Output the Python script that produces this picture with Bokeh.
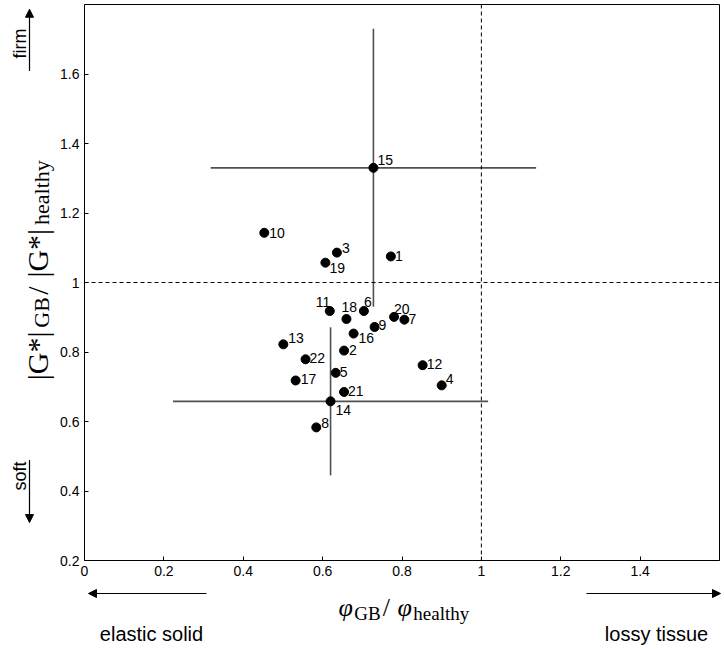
import math
from bokeh.plotting import figure
from bokeh.models import Range1d, Arrow, NormalHead, Span, ColumnDataSource, FixedTicker
from bokeh.layouts import row, column
from bokeh.core.properties import value
from bokeh.embed import file_html
from bokeh.resources import INLINE

# ---- data ----
sample_ids = ["1", "2", "3", "4", "5", "6", "7", "8", "9", "10", "11",
              "12", "13", "14", "15", "16", "17", "18", "19", "20", "21", "22"]
phi_ratio = [0.772, 0.654, 0.636, 0.900, 0.633, 0.704, 0.806, 0.584, 0.731, 0.453, 0.618,
             0.852, 0.501, 0.620, 0.728, 0.678, 0.532, 0.660, 0.607, 0.780, 0.654, 0.557]
g_ratio = [1.075, 0.804, 1.086, 0.704, 0.740, 0.918, 0.893, 0.583, 0.872, 1.143, 0.918,
           0.762, 0.822, 0.658, 1.330, 0.853, 0.718, 0.895, 1.057, 0.901, 0.685, 0.779]

# error bars (mean +/- sd) for groups 15 and 14
err_ids = ["15", "14"]
err_phi = [0.410, 0.397]
err_g = [0.400, 0.213]

x_ticks = [0, 0.2, 0.4, 0.6, 0.8, 1, 1.2, 1.4]
x_tick_labels = ["0", "0.2", "0.4", "0.6", "0.8", "1", "1.2", "1.4"]
y_ticks = [0.2, 0.4, 0.6, 0.8, 1, 1.2, 1.4, 1.6]
y_tick_labels = ["0.2", "0.4", "0.6", "0.8", "1", "1.2", "1.4", "1.6"]

# label placement (pixel offsets from each dot: right, down)
label_dx = {"1": 4, "2": 5, "3": 5, "4": 4, "5": 4, "6": 0, "7": 4, "8": 5, "9": 4, "10": 5,
            "11": -14, "12": 4, "13": 5, "14": 5, "15": 4, "16": 5, "17": 5, "18": -5,
            "19": 4, "20": 0, "21": 4, "22": 4}
label_dy = {"1": 0, "2": -1, "3": -5, "4": -6, "5": -1, "6": -9, "7": -1, "8": -4, "9": -2,
            "10": 0, "11": -9, "12": -1, "13": -6, "14": 9, "15": -8, "16": 4, "17": -1,
            "18": -12, "19": 5, "20": -8, "21": -1, "22": -1}

SANS = "Liberation Sans"
SERIF = "Liberation Serif"

TOTAL_W, TOTAL_H = 724, 649
LEFT_W = 56
TOP_H = 586

# ---------------- main plot ----------------
p = figure(width=TOTAL_W - LEFT_W, height=TOP_H, output_backend="svg", toolbar_location=None,
           x_range=Range1d(0, 1.6), y_range=Range1d(0.2, 1.8),
           min_border_left=84 - LEFT_W, min_border_right=5, min_border_top=4, min_border_bottom=26)
p.title.visible = False
p.grid.visible = False
p.background_fill_color = "white"
p.outline_line_color = "black"
p.outline_line_width = 1
p.outline_line_alpha = 1

for ax, ticks, labels in ((p.xaxis[0], x_ticks, x_tick_labels), (p.yaxis[0], y_ticks, y_tick_labels)):
    ax.ticker = FixedTicker(ticks=ticks)
    ax.major_label_overrides = {t: l for t, l in zip(ticks, labels)}
    ax.major_tick_in = 4
    ax.major_tick_out = 0
    ax.minor_tick_line_color = None
    ax.axis_line_color = "black"
    ax.major_tick_line_color = "black"
    ax.major_label_text_font = SANS
    ax.major_label_text_font_size = "14px"
    ax.major_label_text_color = "black"
    ax.major_label_standoff = 5

p.add_layout(Span(location=1, dimension="height", line_color="black", line_dash="4 3", line_width=1))
p.add_layout(Span(location=1, dimension="width", line_color="black", line_dash="4 3", line_width=1))

for sid, ex, ey in zip(err_ids, err_phi, err_g):
    i = sample_ids.index(sid)
    cx, cy = phi_ratio[i], g_ratio[i]
    p.segment(x0=[cx - ex], y0=[cy], x1=[cx + ex], y1=[cy], line_color="#505050", line_width=1.6)
    p.segment(x0=[cx], y0=[cy - ey], x1=[cx], y1=[cy + ey], line_color="#505050", line_width=1.6)

src = ColumnDataSource(dict(x=phi_ratio, y=g_ratio, t=sample_ids,
                            dx=[label_dx[s] for s in sample_ids],
                            dy=[label_dy[s] for s in sample_ids]))
p.scatter("x", "y", source=src, size=9, color="black")
p.text("x", "y", text="t", source=src, x_offset="dx", y_offset="dy",
       text_font=value(SANS), text_font_size="14px", text_color="black",
       text_align="left", text_baseline="middle")


# ---------------- side panels (pixel coordinates) ----------------
def panel(w, h):
    f = figure(width=w, height=h, output_backend="svg", toolbar_location=None,
               x_range=Range1d(0, w), y_range=Range1d(0, h),
               x_axis_location=None, y_axis_location=None,
               min_border_left=0, min_border_right=0, min_border_top=0, min_border_bottom=0)
    f.title.visible = False
    f.grid.visible = False
    f.outline_line_color = None
    f.background_fill_color = "white"
    return f


left = panel(LEFT_W, TOP_H)
bottom = panel(TOTAL_W, TOTAL_H - TOP_H)


def txt(f, x0, y0, x, y, text, font=SANS, size=18, style="normal", angle=0.0,
        align="left", baseline="alphabetic", xo=0, yo=0):
    # x, y given in page pixels; (x0, y0) = panel's top-left page position
    h = f.height
    f.text(x=[x - x0], y=[h - (y - y0)], text=[text], text_font=value(font),
           text_font_size=f"{size}px", text_font_style=style, angle=angle,
           text_align=align, text_baseline=baseline, x_offset=xo, y_offset=yo,
           text_color="black")


def arrow(f, x0, y0, xs, ys, xe, ye):
    h = f.height
    f.add_layout(Arrow(end=NormalHead(size=8, fill_color="black", line_color="black"),
                       x_start=xs - x0, y_start=h - (ys - y0), x_end=xe - x0, y_end=h - (ye - y0),
                       line_color="black", line_width=1.2))


# Liberation Serif approximate advance widths (em)
W = {"|": 0.2, "G": 0.722, "*": 0.5, "B": 0.667, "/": 0.278, " ": 0.25, "h": 0.5, "e": 0.444,
     "a": 0.444, "l": 0.278, "t": 0.278, "y": 0.5, "\u03c6": 0.56}


def width(s, size):
    return sum(W.get(c, 0.5) for c in s) * size * 1.08


def compose(f, x0, y0, pieces, x, y, vertical=False, shift=6):
    cum = 0.0
    for text, size, style, sub in pieces:
        s = shift if sub else 0
        if vertical:
            txt(f, x0, y0, x, y, text, font=SERIF, size=size, style=style,
                angle=math.pi / 2, xo=s, yo=-cum)
        else:
            txt(f, x0, y0, x, y, text, font=SERIF, size=size, style=style, xo=cum, yo=s)
        cum += width(text, size)


# y-axis title and firm/soft hints (left panel, page origin 0,0)
compose(left, 0, 0, [("|G*|", 30, "normal", False), ("GB", 22, "normal", True),
                     ("/ ", 30, "normal", False), ("|G*|", 30, "normal", False),
                     ("healthy", 22, "normal", True)], 37, 396, vertical=True, shift=4)
txt(left, 0, 0, 19, 41, "firm", size=18, angle=math.pi / 2, align="center", baseline="middle")
txt(left, 0, 0, 19, 497, "soft", size=18, angle=math.pi / 2, align="center", baseline="middle")
arrow(left, 0, 0, 29, 70, 29, 5)
arrow(left, 0, 0, 29, 480, 29, 546)

# x-axis title and elastic/lossy hints (bottom panel, page origin 0,TOP_H)
compose(bottom, 0, TOP_H, [("\u03c6", 26, "italic", False), ("GB", 19, "normal", True),
                           ("/ ", 26, "normal", False), ("\u03c6", 26, "italic", False),
                           ("healthy", 19, "normal", True)], 338, 607)
txt(bottom, 0, TOP_H, 151, 633, "elastic solid", size=20, align="center", baseline="middle")
txt(bottom, 0, TOP_H, 656, 633, "lossy tissue", size=20, align="center", baseline="middle")
arrow(bottom, 0, TOP_H, 206, 593, 88, 593)
arrow(bottom, 0, TOP_H, 586, 593, 720, 593)

layout = column(row(left, p), bottom)
open("out.html", "w").write(file_html(layout, INLINE))
